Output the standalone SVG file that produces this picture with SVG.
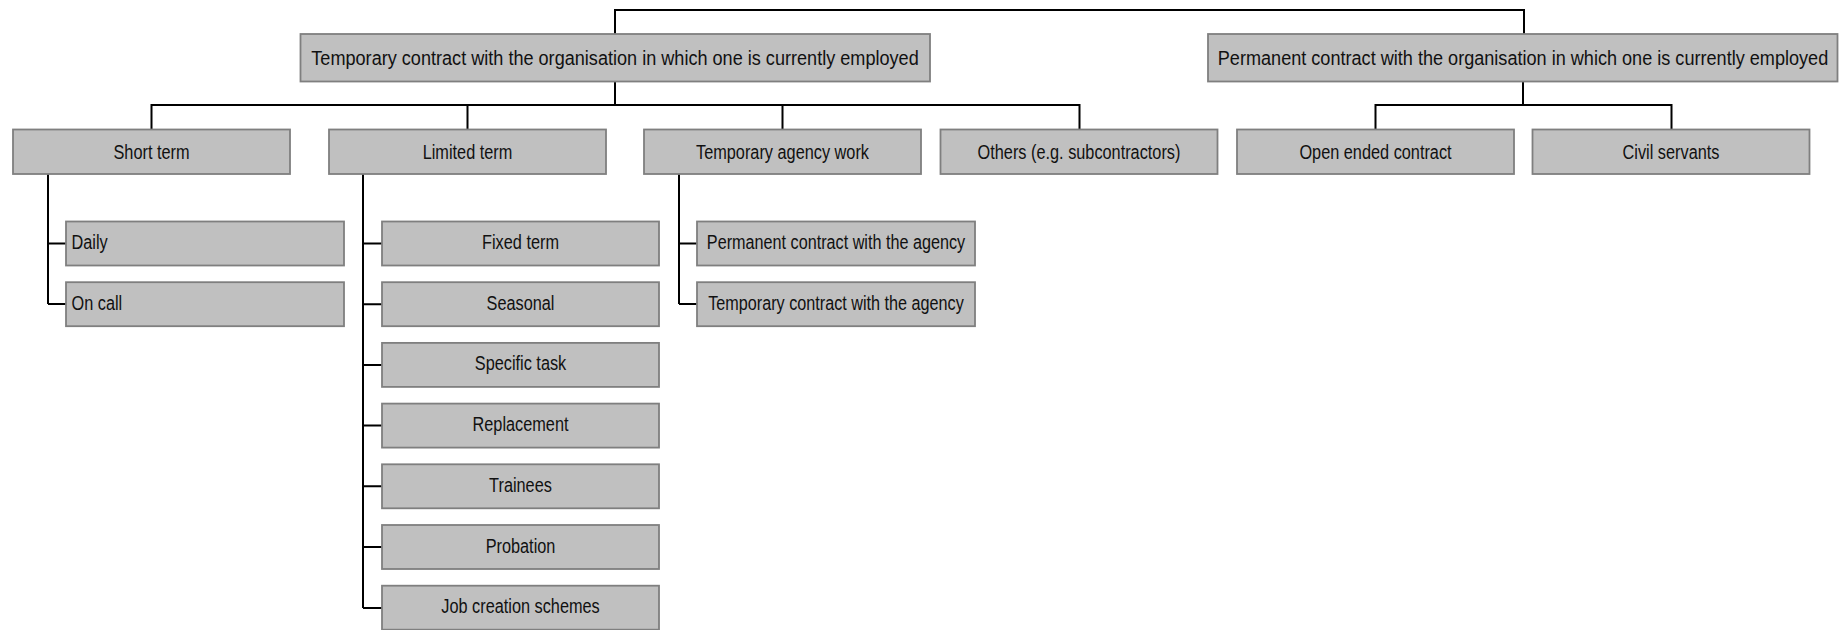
<svg xmlns="http://www.w3.org/2000/svg" width="1845" height="630" viewBox="0 0 1845 630">
<style>
.box{fill:#c0c0c0;stroke:#7f7f7f;stroke-width:1.8}
.t{font-family:"Liberation Sans",Arial,sans-serif;font-size:20px;fill:#111}
.top{font-size:21px}
.c{text-anchor:middle}
.conn{fill:none;stroke:#000;stroke-width:2}
</style>
<rect width="1845" height="630" fill="#fff"/>
<g id="connectors" class="conn">
<path d="M615,34V10H1524V34"/>
<path d="M615,81.5V105M151.5,129.5V105H1079.5V129.5M467.5,105V129.5M782.5,105V129.5"/>
<path d="M1523,81.5V105M1375.5,129.5V105H1671.5V129.5"/>
<path d="M48,174V304M48,243.5H66M48,304H66"/>
<path d="M363,174V608M363,243.5H382M363,304.2H382M363,364.9H382M363,425.6H382M363,486.3H382M363,547H382M363,608H382"/>
<path d="M679,174V304M679,243.5H697M679,304H697"/>
</g>
<g id="n-temp"><rect class="box" x="300.5" y="34" width="629.5" height="47.5"/><text class="t top c" transform="matrix(0.862,0,0,1,615,64.5)">Temporary contract with the organisation in which one is currently employed</text></g>
<g id="n-perm"><rect class="box" x="1208" y="34" width="629.5" height="47.5"/><text class="t top c" transform="matrix(0.862,0,0,1,1523,64.5)">Permanent contract with the organisation in which one is currently employed</text></g>
<g id="n-short"><rect class="box" x="13" y="129.5" width="277" height="44.5"/><text class="t c" transform="matrix(0.815,0,0,1,151.5,158.8)">Short term</text></g>
<g id="n-limited"><rect class="box" x="329" y="129.5" width="277" height="44.5"/><text class="t c" transform="matrix(0.815,0,0,1,467.5,158.8)">Limited term</text></g>
<g id="n-agency"><rect class="box" x="644" y="129.5" width="277" height="44.5"/><text class="t c" transform="matrix(0.815,0,0,1,782.5,158.8)">Temporary agency work</text></g>
<g id="n-others"><rect class="box" x="940.5" y="129.5" width="277" height="44.5"/><text class="t c" transform="matrix(0.815,0,0,1,1079,158.8)">Others (e.g. subcontractors)</text></g>
<g id="n-open"><rect class="box" x="1237" y="129.5" width="277" height="44.5"/><text class="t c" transform="matrix(0.815,0,0,1,1375.5,158.8)">Open ended contract</text></g>
<g id="n-civil"><rect class="box" x="1532.5" y="129.5" width="277" height="44.5"/><text class="t c" transform="matrix(0.815,0,0,1,1671,158.8)">Civil servants</text></g>
<g id="n-daily"><rect class="box" x="66" y="221.5" width="278" height="44"/><text class="t" transform="matrix(0.815,0,0,1,71.5,249)">Daily</text></g>
<g id="n-oncall"><rect class="box" x="66" y="282.2" width="278" height="44"/><text class="t" transform="matrix(0.815,0,0,1,71.5,309.7)">On call</text></g>
<g id="n-fixed"><rect class="box" x="382" y="221.5" width="277" height="44"/><text class="t c" transform="matrix(0.815,0,0,1,520.5,249)">Fixed term</text></g>
<g id="n-seasonal"><rect class="box" x="382" y="282.2" width="277" height="44"/><text class="t c" transform="matrix(0.815,0,0,1,520.5,309.7)">Seasonal</text></g>
<g id="n-specific"><rect class="box" x="382" y="342.9" width="277" height="44"/><text class="t c" transform="matrix(0.815,0,0,1,520.5,370.4)">Specific task</text></g>
<g id="n-replacement"><rect class="box" x="382" y="403.6" width="277" height="44"/><text class="t c" transform="matrix(0.815,0,0,1,520.5,431.1)">Replacement</text></g>
<g id="n-trainees"><rect class="box" x="382" y="464.3" width="277" height="44"/><text class="t c" transform="matrix(0.815,0,0,1,520.5,491.8)">Trainees</text></g>
<g id="n-probation"><rect class="box" x="382" y="525" width="277" height="44"/><text class="t c" transform="matrix(0.815,0,0,1,520.5,552.5)">Probation</text></g>
<g id="n-job"><rect class="box" x="382" y="585.7" width="277" height="44"/><text class="t c" transform="matrix(0.815,0,0,1,520.5,613.2)">Job creation schemes</text></g>
<g id="n-permagency"><rect class="box" x="697" y="221.5" width="278" height="44"/><text class="t c" transform="matrix(0.81,0,0,1,836,249)">Permanent contract with the agency</text></g>
<g id="n-tempagency"><rect class="box" x="697" y="282.2" width="278" height="44"/><text class="t c" transform="matrix(0.81,0,0,1,836,309.7)">Temporary contract with the agency</text></g>
</svg>
